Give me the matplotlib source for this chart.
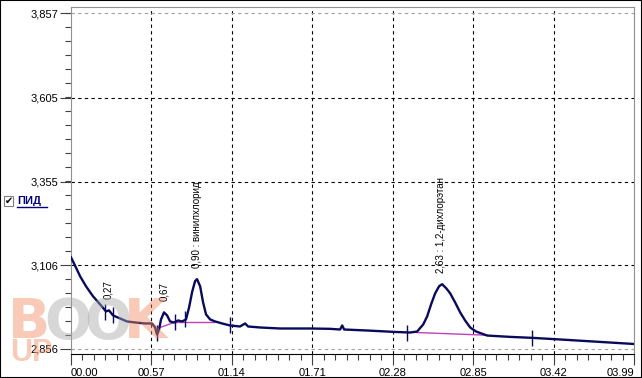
import matplotlib.pyplot as plt
from matplotlib.patches import Rectangle
from matplotlib.lines import Line2D

plt.rcParams['font.family'] = ['Liberation Sans', 'DejaVu Sans']

# chromatogram trace (time, signal)
t = [0.000, 0.028, 0.064, 0.106, 0.156, 0.206, 0.248, 0.269, 0.298, 0.347,
     0.397, 0.454, 0.525, 0.574, 0.596, 0.610, 0.624, 0.638, 0.659, 0.681,
     0.702, 0.730, 0.759, 0.787, 0.815, 0.837, 0.858, 0.879, 0.893, 0.915,
     0.936, 0.957, 0.986, 1.021, 1.071, 1.127, 1.198, 1.234, 1.255, 1.340,
     1.482, 1.695, 1.836, 1.907, 1.922, 1.936, 2.099, 2.283, 2.403, 2.453,
     2.496, 2.524, 2.552, 2.581, 2.609, 2.630, 2.659, 2.687, 2.722, 2.758,
     2.793, 2.829, 2.871, 2.949, 3.112, 3.275, 3.516, 3.750, 3.984]
sig = [3.129, 3.105, 3.073, 3.043, 3.013, 2.989, 2.968, 2.971, 2.956, 2.947,
       2.938, 2.935, 2.932, 2.932, 2.920, 2.899, 2.914, 2.944, 2.965, 2.956,
       2.938, 2.935, 2.941, 2.938, 2.944, 2.980, 3.025, 3.058, 3.064, 3.043,
       2.995, 2.959, 2.944, 2.938, 2.932, 2.926, 2.923, 2.932, 2.923, 2.920,
       2.917, 2.917, 2.916, 2.914, 2.926, 2.914, 2.911, 2.907, 2.905, 2.908,
       2.929, 2.953, 2.989, 3.022, 3.043, 3.049, 3.037, 3.022, 2.995, 2.965,
       2.941, 2.920, 2.908, 2.896, 2.892, 2.889, 2.883, 2.877, 2.871]

# baselines under peaks
base_segs = [([0.63, 0.74], [2.920, 2.936]),
             ([0.74, 1.01], [2.936, 2.936]),
             ([2.45, 2.95], [2.905, 2.897])]

# peak boundary marks
mark_t = [0.24, 0.30, 0.61, 0.74, 0.81, 1.13, 2.38, 3.27]
mark_v = [2.966, 2.956, 2.905, 2.935, 2.944, 2.926, 2.905, 2.889]

# peak labels
peak_t = [0.27, 0.67, 0.90, 2.63]
peak_v = [2.971, 2.965, 3.064, 3.049]
peak_txt = ['0,27', '0,67', '0,90 : винилхлорид', '2,63 : 1,2-дихлорэтан']

xticks = [0.00, 0.57, 1.14, 1.71, 2.28, 2.85, 3.42, 3.99]
xlabels = ['00.00', '00.57', '01.14', '01.71', '02.28', '02.85', '03.42', '03.99']
yticks = [2.856, 3.106, 3.355, 3.605, 3.857]
ylabels = ['2,856', '3,106', '3,355', '3,605', '3,857']

navy = '#0a0a5c'

fig = plt.figure(figsize=(6.42, 3.78), dpi=100)
ax = fig.add_axes([71/642, 24/378, 563/642, 347/378])

ax.plot(t, sig, color=navy, lw=1.7, zorder=3)
for xs, ys in base_segs:
    ax.plot(xs, ys, color='#c040c0', lw=1, zorder=2)
ax.plot(mark_t, mark_v, ls='none', marker='|', ms=11, mew=1, color=navy, zorder=4)

for pt, pv, s in zip(peak_t, peak_v, peak_txt):
    ax.annotate(s, (pt, pv), xytext=(-1, 8), textcoords='offset points',
                rotation=90, ha='center', va='bottom', fontsize=7)

ax.set_xlim(0, 3.99)
ax.set_ylim(2.841, 3.875)

# grid
for x in xticks[1:-1]:
    ax.axvline(x, color='black', lw=0.8, ls=(0, (3, 3)), zorder=1)
for y in yticks[1:-1]:
    ax.axhline(y, color='black', lw=0.8, ls=(0, (3, 3)), zorder=1)
for y in [yticks[0], yticks[-1]]:
    ax.axhline(y, color='#a0a0a0', lw=0.8, ls=(0, (3, 3)), zorder=1)

ax.set_xticks(xticks)
ax.set_xticklabels(xlabels)
ax.set_yticks(yticks)
ax.set_yticklabels(ylabels)
ax.set_xticks([i * 0.57 / 7 for i in range(50)], minor=True)
ax.set_yticks([2.856 + i * 0.25 / 6 for i in range(25)], minor=True)
ax.tick_params(axis='both', which='major', labelsize=8, length=8, width=0.8, color='#404040')
ax.tick_params(axis='both', which='minor', length=4, width=0.8, color='#404040')
ax.tick_params(axis='x', pad=2)
ax.tick_params(axis='y', pad=1)
xl = ax.get_xticklabels()
xl[0].set_ha('left')
xl[-1].set_ha('right')

for side in ['left', 'top', 'right']:
    ax.spines[side].set_color('#909090')
ax.spines['bottom'].set_color('black')

# legend checkbox
fig.patches.append(Rectangle((4/642, (378-206)/378), 9/642, 10/378, transform=fig.transFigure,
                             fill=True, fc='white', ec='#808080', lw=0.8))
fig.text(8.5/642, (378-201)/378, '✔', fontsize=7, ha='center', va='center', family='DejaVu Sans')
fig.text(17/642, (378-201)/378, 'ПИД', fontsize=8, fontweight='bold', color='#000080',
         ha='left', va='center')
fig.lines.append(Line2D([17/642, 47/642], [(378-207)/378] * 2, transform=fig.transFigure,
                        color='#000080', lw=1))

# watermark
wm = [('B', 8, '#f08a60'), ('O', 44, '#a8a8a8'), ('O', 84, '#a8a8a8'), ('K', 124, '#f08a60')]
for ch, px, c in wm:
    fig.text(px/642, (378-338)/378, ch, fontsize=40, fontweight='bold', color=c, alpha=0.45,
             ha='left', va='baseline', zorder=0, family='Liberation Sans Narrow')
fig.text(10/642, (378-361)/378, 'UP', fontsize=22, fontweight='bold', color='#f08a60',
         alpha=0.45, ha='left', va='baseline', zorder=0)

# outer frame
fig.patches.append(Rectangle((0, 0), 1, 1, transform=fig.transFigure, fill=False,
                             ec='black', lw=1.5))

fig.savefig('out.png', dpi=100)
